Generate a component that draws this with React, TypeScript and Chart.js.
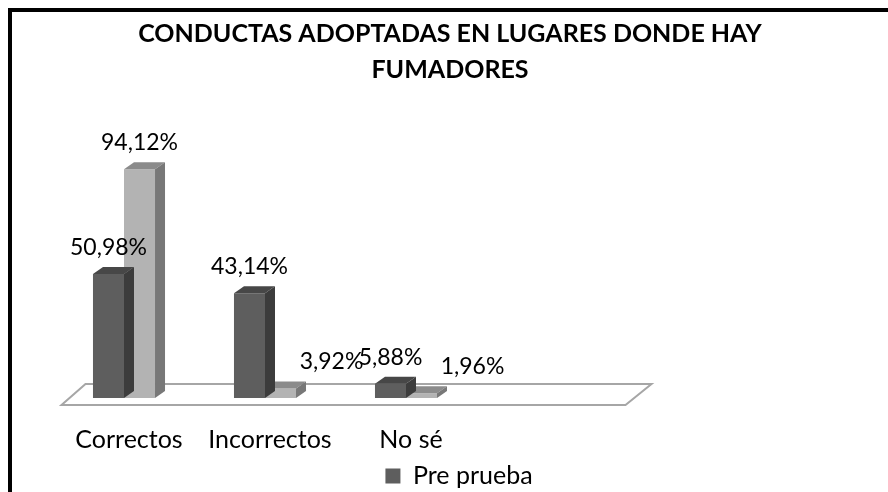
import React, { useEffect, useRef } from "react";
import { Chart, registerables } from "chart.js";

Chart.register(...registerables);

// ---- data ----
const categories = ["Correctos", "Incorrectos", "No sé", ""];
const preValues = [50.98, 43.14, 5.88, null];
const postValues = [94.12, 3.92, 1.96, null];
const seriesNames = ["Pre prueba", "Post prueba"];
const titleLines = ["CONDUCTAS ADOPTADAS EN LUGARES DONDE HAY", "FUMADORES"];

// ---- style ----
const FONT = "Lato, 'Open Sans', sans-serif";
const DEPTH_X = 10;
const DEPTH_Y = 7;
const LEGEND_SHIFT = 9;
const faceColors = [
  { front: "#5e5e5e", top: "#474747", side: "#3c3c3c" },
  { front: "#b3b3b3", top: "#8b8b8b", side: "#787878" },
];

const fmt = (v: number) => v.toFixed(2).replace(".", ",") + "%";

const bar3d = {
  id: "bar3d",
  afterLayout(chart: any) {
    if (chart.legend) {
      chart.legend.left += LEGEND_SHIFT;
      chart.legend.right += LEGEND_SHIFT;
    }
  },
  beforeDatasetsDraw(chart: any) {
    const { ctx, chartArea, scales } = chart;
    const base = scales.y.getPixelForValue(0);
    const fy = base + 7;
    const by = base - 14;
    const l = chartArea.left + 8;
    const r = chartArea.right + 8;
    ctx.save();
    ctx.beginPath();
    ctx.moveTo(l, fy);
    ctx.lineTo(r, fy);
    ctx.lineTo(r + 26, by);
    ctx.lineTo(l + 24, by);
    ctx.closePath();
    ctx.fillStyle = "#ffffff";
    ctx.fill();
    ctx.strokeStyle = "#a6a6a6";
    ctx.lineWidth = 2;
    ctx.stroke();
    ctx.restore();
  },
  afterDatasetDraw(chart: any, args: any) {
    const { ctx } = chart;
    const di = args.index;
    const st = faceColors[di];
    const data = chart.data.datasets[di].data;
    ctx.save();
    args.meta.data.forEach((el: any, i: number) => {
      if (data[i] == null) return;
      const { x, y, base, width } = el.getProps(["x", "y", "base", "width"], true);
      if (!isFinite(x) || !isFinite(y)) return;
      const l = x - width / 2;
      const r = x + width / 2;
      // top face
      ctx.beginPath();
      ctx.moveTo(l, y);
      ctx.lineTo(l + DEPTH_X, y - DEPTH_Y);
      ctx.lineTo(r + DEPTH_X, y - DEPTH_Y);
      ctx.lineTo(r, y);
      ctx.closePath();
      ctx.fillStyle = st.top;
      ctx.fill();
      // side face
      ctx.beginPath();
      ctx.moveTo(r, y);
      ctx.lineTo(r + DEPTH_X, y - DEPTH_Y);
      ctx.lineTo(r + DEPTH_X, base - DEPTH_Y);
      ctx.lineTo(r, base);
      ctx.closePath();
      ctx.fillStyle = st.side;
      ctx.fill();
    });
    ctx.restore();
  },
  afterDraw(chart: any) {
    const { ctx } = chart;
    ctx.save();
    ctx.font = `23px ${FONT}`;
    ctx.fillStyle = "#000000";
    ctx.textAlign = "center";
    ctx.textBaseline = "middle";
    chart.data.datasets.forEach((ds: any, di: number) => {
      const meta = chart.getDatasetMeta(di);
      meta.data.forEach((el: any, i: number) => {
        const v = ds.data[i];
        if (v == null) return;
        const { x, y } = el.getProps(["x", "y"], true);
        const shift = di === 1 && v < 10 ? 51 : 0;
        ctx.fillText(fmt(v), x + shift, y - 26.5);
      });
    });
    ctx.restore();
  },
};

export default function App() {
  const ref = useRef<HTMLCanvasElement>(null);

  useEffect(() => {
    if (!ref.current) return;
    const chart = new Chart(ref.current, {
      type: "bar",
      data: {
        labels: categories,
        datasets: [
          {
            label: seriesNames[0],
            data: preValues,
            backgroundColor: faceColors[0].front,
            borderWidth: 0,
            categoryPercentage: 0.44,
            barPercentage: 1,
          },
          {
            label: seriesNames[1],
            data: postValues,
            backgroundColor: faceColors[1].front,
            borderWidth: 0,
            categoryPercentage: 0.44,
            barPercentage: 1,
          },
        ],
      },
      options: {
        responsive: false,
        animation: false,
        devicePixelRatio: 1,
        events: [],
        layout: { padding: { top: 0, left: 0, right: 0, bottom: 5.5 } },
        plugins: {
          tooltip: { enabled: false },
          title: {
            display: true,
            text: titleLines,
            color: "#000000",
            font: { family: FONT, size: 25, weight: "bold", lineHeight: 1.45 },
            padding: { top: 4, bottom: 66.5 },
          },
          legend: {
            display: true,
            position: "bottom",
            labels: {
              color: "#000000",
              font: { family: FONT, size: 25 },
              boxWidth: 15,
              boxHeight: 15,
              padding: 10,
              filter: (item: any) => item.datasetIndex === 0,
            },
          },
        },
        scales: {
          x: {
            type: "category",
            offset: true,
            grid: { display: false, drawTicks: false },
            border: { display: false },
            ticks: {
              color: "#000000",
              font: { family: FONT, size: 25 },
              padding: 27,
              labelOffset: 5,
              maxRotation: 0,
              autoSkip: false,
            },
            afterFit: (s: any) => {
              s.height = 55.5;
            },
          },
          y: {
            type: "linear",
            position: "left",
            min: 0,
            max: 100,
            ticks: { display: false },
            grid: { display: false, drawTicks: false },
            border: { display: false },
            afterFit: (s: any) => {
              s.width = 41.5;
            },
          },
          yRight: {
            type: "linear",
            position: "right",
            min: 0,
            max: 100,
            ticks: { display: false },
            grid: { display: false, drawTicks: false },
            border: { display: false },
            afterFit: (s: any) => {
              s.width = 270.5;
            },
          },
        },
      } as any,
      plugins: [bar3d],
    });
    return () => chart.destroy();
  }, []);

  return (
    <div
      style={{
        position: "fixed",
        left: 0,
        top: 0,
        width: 888,
        height: 492,
        overflow: "hidden",
        background: "#ffffff",
      }}
    >
      <div
        style={{
          position: "absolute",
          left: 8,
          top: 8,
          width: 876,
          height: 492,
          border: "4px solid #000000",
          background: "#ffffff",
        }}
      >
        <canvas ref={ref} width={876} height={492} style={{ display: "block" }} />
      </div>
    </div>
  );
}
